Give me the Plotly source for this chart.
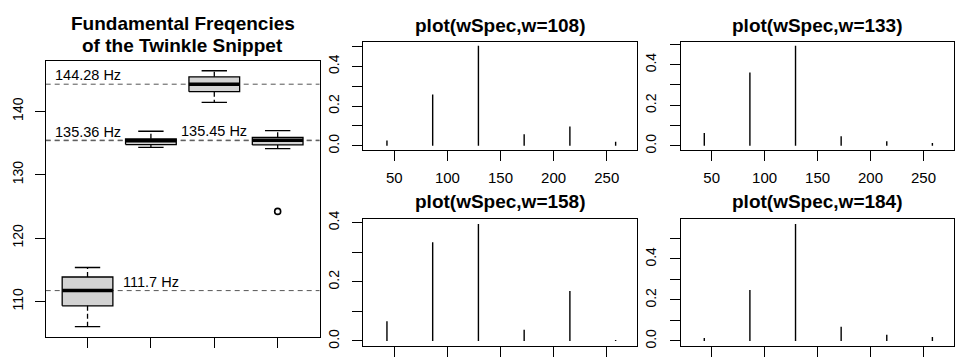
import plotly.graph_objects as go

# ---------------- data ----------------
box_positions = [1, 2, 3, 4]
box_lower = [106.0, 134.3, 141.4, 134.1]
box_q1 = [109.3, 134.75, 143.1, 134.7]
box_median = [111.7, 135.36, 144.28, 135.45]
box_q3 = [113.85, 135.65, 145.45, 135.9]
box_upper = [115.35, 136.85, 146.4, 136.95]
outlier_x = [4]
outlier_y = [124.2]

ref_lines = [144.28, 135.36, 135.45, 111.7]
ref_labels = ["144.28 Hz", "135.36 Hz", "135.45 Hz", "111.7 Hz"]
ref_label_x = [1, 1, 3, 2]

freqs = [43.07, 86.13, 129.2, 172.27, 215.33, 258.4]
spec_108 = [0.027, 0.258, 0.503, 0.058, 0.097, 0.021]
spec_133 = [0.063, 0.362, 0.493, 0.047, 0.022, 0.014]
spec_158 = [0.067, 0.334, 0.395, 0.038, 0.169, 0.003]
spec_184 = [0.014, 0.248, 0.570, 0.070, 0.030, 0.019]
spec_titles = ["plot(wSpec,w=108)", "plot(wSpec,w=133)", "plot(wSpec,w=158)", "plot(wSpec,w=184)"]

spec_xticks = [50, 100, 150, 200, 250]
spec_yticks = [0.0, 0.1, 0.2, 0.3, 0.4, 0.5]
spec_ytext = ["0.0", "", "0.2", "", "0.4", ""]
box_yticks = [110, 120, 130, 140]

main_title_lines = ["Fundamental Freqencies", "of the Twinkle Snippet"]

# ---------------- layout helpers ----------------
W, H = 955, 359
FONT = "Liberation Sans, Arial, sans-serif"


def xd(a, b):
    return [a / W, b / W]


def yd(top, bottom):
    return [1 - bottom / H, 1 - top / H]


fig = go.Figure()

# ---------------- boxplot (left) ----------------
HW = 0.4      # box half width
SW = 0.2      # staple half width
for i, p in enumerate(box_positions):
    fig.add_trace(go.Scatter(
        x=[p - HW, p + HW, p + HW, p - HW, p - HW],
        y=[box_q1[i], box_q1[i], box_q3[i], box_q3[i], box_q1[i]],
        mode="lines", fill="toself", fillcolor="#d3d3d3",
        line=dict(color="black", width=1.3), xaxis="x", yaxis="y",
        hoverinfo="skip"))
    fig.add_trace(go.Scatter(
        x=[p, p, None, p, p],
        y=[box_q3[i], box_upper[i], None, box_q1[i], box_lower[i]],
        mode="lines", line=dict(color="black", width=1.3, dash="5px,3px"),
        xaxis="x", yaxis="y", hoverinfo="skip"))
    fig.add_trace(go.Scatter(
        x=[p - SW, p + SW, None, p - SW, p + SW],
        y=[box_upper[i], box_upper[i], None, box_lower[i], box_lower[i]],
        mode="lines", line=dict(color="black", width=1.3),
        xaxis="x", yaxis="y", hoverinfo="skip"))
    fig.add_trace(go.Scatter(
        x=[p - HW, p + HW], y=[box_median[i], box_median[i]],
        mode="lines", line=dict(color="black", width=3.5),
        xaxis="x", yaxis="y", hoverinfo="skip"))

fig.add_trace(go.Scatter(
    x=outlier_x, y=outlier_y, mode="markers",
    marker=dict(symbol="circle-open", size=6, color="black", line=dict(width=1.6)),
    xaxis="x", yaxis="y", hoverinfo="skip"))

for v in ref_lines:
    fig.add_shape(type="line", xref="x domain", yref="y", x0=0, x1=1, y0=v, y1=v,
                  layer="below", line=dict(color="#555555", width=1, dash="5px,4px"))

annotations = []
for v, t, px in zip(ref_lines, ref_labels, ref_label_x):
    annotations.append(dict(x=px, y=v, xref="x", yref="y", text=t, showarrow=False,
                            xanchor="center", yanchor="bottom", yshift=-1,
                            font=dict(family=FONT, size=14.5, color="black")))

ymin, ymax = min(box_lower + outlier_y), max(box_upper)
ext = (ymax - ymin) * 0.04
box_yrange = [ymin - ext, ymax + ext]

axis_common = dict(showline=True, mirror=True, linecolor="black", linewidth=1,
                   ticks="outside", ticklen=10, tickwidth=1, tickcolor="black",
                   showgrid=False, zeroline=False)

layout_axes = {}
layout_axes["xaxis"] = dict(domain=xd(45.7, 319.5), range=[0.34, 4.66], tickvals=box_positions,
                            showticklabels=False, anchor="y", **axis_common)
layout_axes["yaxis"] = dict(domain=yd(53.3, 339.3), range=box_yrange, tickvals=box_yticks,
                            tickangle=-90, anchor="x", ticklabelstandoff=6,
                            tickfont=dict(family=FONT, size=14, color="black"), **axis_common)

for line_text, ypix in zip(main_title_lines, [14.5, 37.5]):
    annotations.append(dict(x=182.6 / W, y=1 - ypix / H, xref="paper", yref="paper",
                            text=line_text, showarrow=False, xanchor="center", yanchor="middle",
                            font=dict(family=FONT, size=19, color="black", weight="bold")))

# ---------------- spectra ----------------
panels = [
    (spec_108, xd(363.3, 637.3), yd(34, 145.7), True, 17),
    (spec_133, xd(680.7, 954.0), yd(34, 145.7), True, 17),
    (spec_158, xd(363.3, 637.3), yd(217.7, 348.3), False, 199),
    (spec_184, xd(680.7, 954.0), yd(217.7, 348.3), False, 199),
]

for k, (vals, xdom, ydom, showx, title_y) in enumerate(panels):
    n = k + 2
    xs, ys = [], []
    for f, v in zip(freqs, vals):
        xs += [f, f, None]
        ys += [0, v, None]
    fig.add_trace(go.Scatter(x=xs, y=ys, mode="lines", line=dict(color="black", width=1.4),
                             xaxis=f"x{n}", yaxis=f"y{n}", hoverinfo="skip"))
    vmax = max(vals)
    yr = [-0.04 * vmax, vmax * 1.04]
    layout_axes[f"xaxis{n}"] = dict(domain=xdom, range=[20.8, 278.8], tickvals=spec_xticks,
                                    showticklabels=showx, anchor=f"y{n}", ticklabelstandoff=4,
                                    tickfont=dict(family=FONT, size=15, color="black"),
                                    **axis_common)
    layout_axes[f"yaxis{n}"] = dict(domain=ydom, range=yr, tickvals=spec_yticks,
                                    ticktext=spec_ytext, tickangle=-90, anchor=f"x{n}",
                                    ticklabelstandoff=8,
                                    tickfont=dict(family=FONT, size=14, color="black"),
                                    **axis_common)
    annotations.append(dict(x=(xdom[0] + xdom[1]) / 2, y=1 - title_y / H, xref="paper",
                            yref="paper", text=spec_titles[k], showarrow=False,
                            xanchor="center", yanchor="middle",
                            font=dict(family=FONT, size=19, color="black", weight="bold")))

fig.update_layout(
    width=W, height=H, autosize=False,
    margin=dict(l=0, r=0, t=0, b=0),
    paper_bgcolor="white", plot_bgcolor="white",
    showlegend=False, annotations=annotations,
    **layout_axes)

fig.write_html("out.html", config={"displayModeBar": False},
               post_script="document.body.style.margin='0';document.body.style.overflow='hidden';")
